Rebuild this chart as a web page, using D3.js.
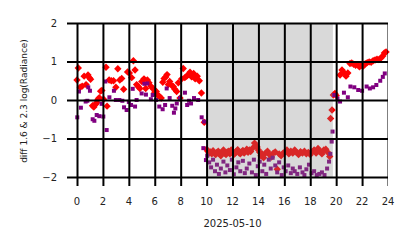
<!DOCTYPE html>
<html><head><meta charset="utf-8">
<script src="https://cdn.jsdelivr.net/npm/d3@7"></script>
<style>
html,body{margin:0;padding:0;background:#fff;}
svg{display:block;font-family:"DejaVu Sans",sans-serif;}
</style></head>
<body><svg id="c" width="414" height="248"></svg>
<script>
// ---- data ----
const xTicks = [0,2,4,6,8,10,12,14,16,18,20,22,24];
const yTicks = [-2,-1,0,1,2];
const xLabel = "2025-05-10";
const yLabel = "diff 1.6 & 2.3  log(Radiance)";
const shadeStart = 10.0, shadeEnd = 19.75;

const redHours = [0.00,0.10,0.25,0.40,0.55,0.70,0.85,0.95,1.05,1.20,1.30,1.42,1.52,1.62,1.72,1.82,1.92,2.05,2.24,2.32,2.48,2.65,2.82,3.00,3.15,3.30,3.45,3.60,3.90,4.04,4.22,4.35,4.48,4.60,4.72,4.85,5.00,5.17,5.30,5.43,5.55,5.70,5.85,6.00,6.12,6.22,6.35,6.50,6.62,6.72,6.85,6.95,7.05,7.15,7.30,7.43,7.55,7.69,7.82,7.95,8.08,8.20,8.32,8.46,8.60,8.72,8.85,9.00,9.12,9.28,9.44,9.60,9.82,
10.00,10.10,10.20,10.30,10.40,10.50,10.60,10.70,10.80,10.90,11.00,11.10,11.20,11.30,11.40,11.50,11.60,11.70,11.80,11.90,12.00,12.10,12.20,12.30,12.40,12.50,12.60,12.70,12.80,12.90,13.00,13.10,13.20,13.30,13.40,13.55,13.70,13.80,13.90,14.00,14.10,14.20,14.30,14.40,14.55,14.70,14.85,15.00,15.15,15.30,15.45,15.60,15.75,15.90,16.05,16.20,16.35,16.50,16.65,16.80,16.95,17.10,17.25,17.40,17.55,17.70,17.85,18.00,18.15,18.30,18.45,18.60,18.75,18.90,19.05,19.20,19.35,19.50,19.57,19.68,19.78,19.90,20.00,
20.30,20.45,20.58,20.76,20.90,21.07,21.20,21.35,21.50,21.65,21.80,21.95,22.10,22.25,22.40,22.55,22.70,22.85,23.00,23.15,23.30,23.45,23.60,23.72,23.85];
const redVals = [0.52,0.83,0.33,0.36,0.62,0.40,0.65,0.58,0.54,-0.15,-0.18,-0.12,-0.07,0.02,0.06,0.23,0.25,0.02,0.85,-0.16,0.52,0.50,0.50,0.33,0.81,0.52,0.56,0.28,0.73,0.70,0.58,1.02,0.78,0.40,0.35,0.30,0.48,0.55,0.30,0.52,0.45,0.36,0.30,0.20,0.22,0.13,0.10,0.05,0.46,0.56,0.60,0.66,0.40,0.48,0.38,0.35,0.28,0.22,0.45,0.05,0.55,0.82,0.58,0.62,0.66,0.72,0.60,0.69,0.55,0.62,0.50,0.18,-0.58,
-1.28,-1.33,-1.38,-1.35,-1.40,-1.32,-1.38,-1.42,-1.36,-1.33,-1.40,-1.45,-1.36,-1.30,-1.38,-1.42,-1.35,-1.33,-1.40,-1.30,-1.36,-1.42,-1.38,-1.33,-1.29,-1.37,-1.40,-1.35,-1.31,-1.38,-1.33,-1.28,-1.36,-1.30,-1.34,-1.25,-1.12,-1.18,-1.22,-1.30,-1.36,-1.45,-1.40,-1.50,-1.38,-1.33,-1.42,-1.48,-1.38,-1.35,-1.80,-1.40,-1.45,-1.38,-1.35,-1.30,-1.40,-1.33,-1.38,-1.30,-1.36,-1.42,-1.34,-1.38,-1.33,-1.40,-1.36,-1.42,-1.34,-1.30,-1.38,-1.26,-1.33,-1.40,-1.30,-1.28,-1.36,-1.47,-0.48,-0.26,0.13,0.17,0.12,
0.65,0.78,0.72,0.62,0.70,0.95,0.96,0.93,0.90,0.92,0.86,0.90,0.88,0.94,0.97,0.99,0.98,1.02,1.04,1.06,1.05,1.09,1.14,1.22,1.25];

const purpleHours = [0.02,0.15,0.30,0.67,0.80,0.87,1.00,1.21,1.34,1.52,1.72,1.90,2.03,2.19,2.29,2.50,2.85,3.00,3.27,3.50,3.63,3.83,4.00,4.17,4.30,4.48,4.60,4.99,5.20,5.32,5.43,5.70,5.84,6.10,6.35,6.61,6.80,6.92,7.15,7.35,7.48,7.59,7.70,7.95,8.33,8.50,8.65,8.80,9.03,9.35,9.62,9.75,9.80,9.95,
10.05,10.20,10.35,10.50,10.65,10.80,10.95,11.10,11.30,11.45,11.60,11.80,11.95,12.10,12.30,12.45,12.60,12.80,12.95,13.10,13.30,13.50,13.65,13.80,13.95,14.10,14.30,14.45,14.60,14.80,14.95,15.10,15.30,15.45,15.60,15.80,15.95,16.10,16.30,16.50,16.65,16.80,17.00,17.20,17.40,17.55,17.70,17.90,18.10,18.30,18.50,18.70,18.90,19.10,19.30,19.45,19.55,19.65,19.72,
19.83,20.10,20.30,20.60,20.90,21.10,21.40,21.70,22.00,22.35,22.60,22.85,23.10,23.40,23.60,23.75];
const purpleVals = [-0.45,0.22,-0.20,-0.04,-0.02,0.33,0.24,-0.50,-0.54,-0.39,-0.42,-0.10,-0.43,0.48,-0.78,0.07,0.24,0.00,0.00,-0.02,-0.19,-0.26,-0.05,-0.13,0.29,-0.17,0.00,0.17,0.42,0.14,0.43,0.02,0.13,0.00,-0.17,-0.24,-0.13,0.30,0.05,-0.15,-0.33,-0.22,-0.09,0.05,0.19,-0.13,-0.02,-0.09,0.05,0.00,-0.45,-1.25,-0.56,-1.56,
-1.45,-1.62,-1.75,-1.55,-1.85,-1.68,-1.92,-1.78,-1.60,-1.88,-1.70,-1.82,-1.55,-1.93,-1.75,-1.62,-1.85,-1.58,-1.90,-1.78,-1.65,-1.88,-1.55,-1.95,-1.72,-1.60,-1.85,-1.68,-1.92,-1.55,-1.78,-1.50,-1.70,-1.88,-1.62,-1.95,-1.75,-1.85,-1.70,-1.90,-1.78,-1.85,-1.92,-1.75,-1.88,-1.95,-1.80,-1.68,-1.90,-1.85,-1.95,-1.92,-1.88,-1.95,-1.78,-1.60,-1.40,-1.08,-0.82,
0.13,0.04,-0.04,0.19,0.07,0.35,0.33,0.26,0.24,0.35,0.30,0.33,0.39,0.50,0.60,0.69];

// ---- chart ----
const svg = d3.select("#c");
const x = d3.scaleLinear().domain([0,24]).range([77,388]);
const y = d3.scaleLinear().domain([-2,2]).range([177,23]);

const red = redHours.map((h,i)=>({h, v:redVals[i]}));
const purple = purpleHours.map((h,i)=>({h, v:purpleVals[i]}));

svg.append("defs").append("clipPath").attr("id","clip")
  .append("rect").attr("x",0).attr("y",0).attr("width",388).attr("height",248);

const pts = svg.append("g");
pts.selectAll("path.r").data(red).enter().append("path")
  .attr("class","r")
  .attr("transform",d=>`translate(${x(d.h)},${y(d.v)})`)
  .attr("d","M0,-3.7L3.7,0L0,3.7L-3.7,0Z")
  .attr("fill","#ff0000");
pts.selectAll("rect.p").data(purple).enter().append("rect")
  .attr("class","p")
  .attr("x",d=>x(d.h)-2).attr("y",d=>y(d.v)-2)
  .attr("width",4).attr("height",4)
  .attr("fill","#800080");

// shaded span on top
svg.append("rect")
  .attr("x",x(shadeStart)).attr("y",y(2))
  .attr("width",x(shadeEnd)-x(shadeStart)).attr("height",y(-2)-y(2))
  .attr("fill","#808080").attr("fill-opacity",0.3);

// axes with grid (wrapped in clipped outer group)
const clipG = svg.append("g").attr("clip-path","url(#clip)");
const gx = clipG.append("g").attr("transform","translate(0,186)")
  .call(d3.axisBottom(x).tickValues(xTicks).tickSizeInner(-163).tickSizeOuter(0).tickPadding(11).tickFormat(d3.format("d")));
const gy = clipG.append("g").attr("transform","translate(67,0)")
  .call(d3.axisLeft(y).tickValues(yTicks).tickSizeInner(-321).tickSizeOuter(0).tickPadding(10).tickFormat(d=>d<0?"\u2212"+Math.abs(d):d));
[gx,gy].forEach(g=>{
  g.select(".domain").remove();
  g.selectAll(".tick line").attr("stroke","#000").attr("stroke-width",2);
  g.selectAll(".tick text").remove();
});
// tick labels
svg.append("g").selectAll("text").data(xTicks).enter().append("text")
  .attr("x",d=>x(d)).attr("y",205).attr("text-anchor","middle")
  .attr("font-size",10).attr("fill","#222").text(d=>d);
svg.append("g").selectAll("text").data(yTicks).enter().append("text")
  .attr("x",57).attr("y",d=>y(d)+3.6).attr("text-anchor","end")
  .attr("font-size",10).attr("fill","#222").text(d=>d<0?"\u2212"+Math.abs(d):d);

svg.append("text").attr("x",232.5).attr("y",227).attr("text-anchor","middle")
  .attr("font-size",10).attr("fill","#222").text(xLabel);
svg.append("text").attr("transform","translate(27,101) rotate(-90)").attr("text-anchor","middle")
  .attr("font-size",9).attr("fill","#222").text(yLabel);
</script></body></html>
